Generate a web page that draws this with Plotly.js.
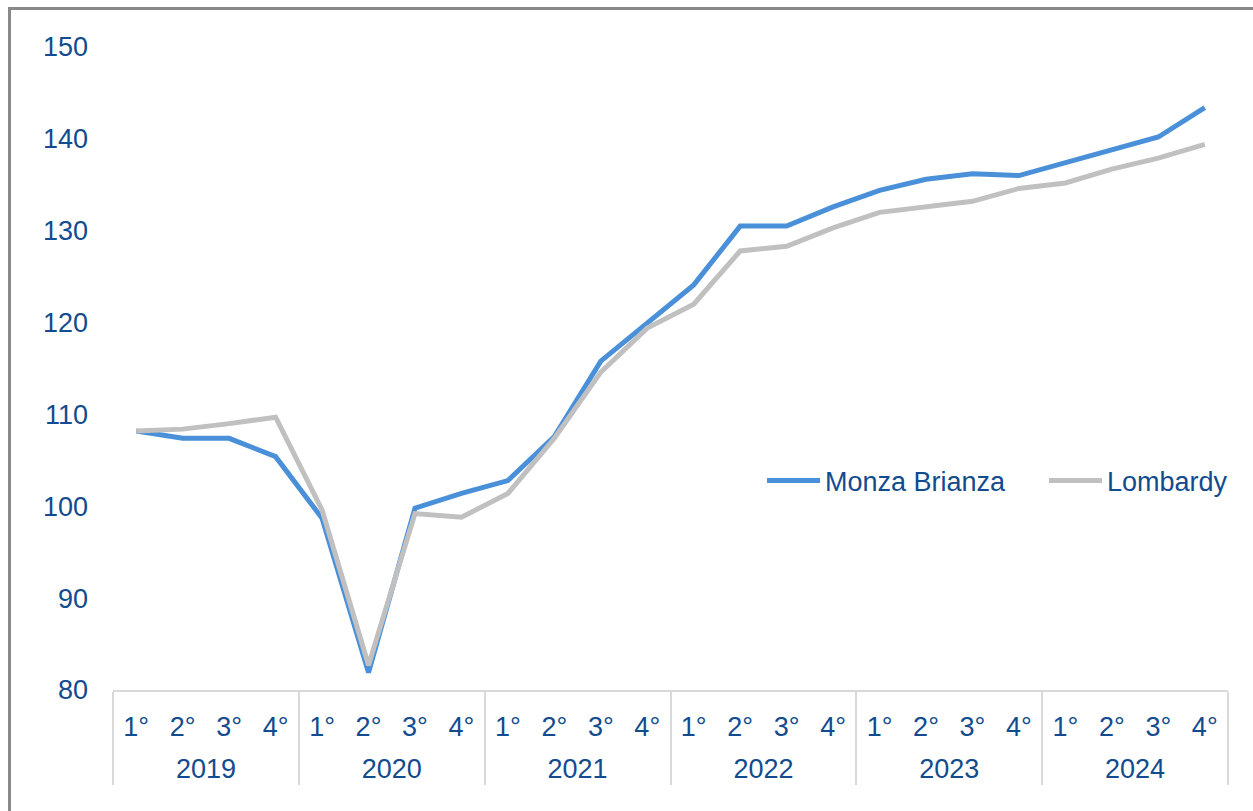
<!DOCTYPE html>
<html>
<head>
<meta charset="utf-8">
<script src="https://cdn.plot.ly/plotly-3.0.1.min.js"></script>
<style>
html,body{margin:0;padding:0;background:#fff;}
#chart{width:1253px;height:811px;position:absolute;left:0;top:0;}
#frame{position:absolute;left:8px;top:7px;width:1300px;height:900px;border-left:3px solid #898989;border-top:3px solid #898989;pointer-events:none;}
</style>
</head>
<body>
<div id="chart"></div>
<div id="frame"></div>
<script>
const years = ["2019","2020","2021","2022","2023","2024"];
const quarters = ["1°","2°","3°","4°"];
const monzaBrianza = [108.2,107.4,107.4,105.4, 98.7,81.9,99.8,101.4, 102.8,107.6,115.8,119.9, 124.1,130.5,130.5,132.6, 134.4,135.6,136.2,136.0, 137.4,138.7,140.2,143.4];
const lombardy = [108.2,108.4,109.0,109.7, 99.6,82.7,99.2,98.8, 101.4,107.4,114.6,119.4, 122.0,127.8,128.3,130.3, 132.0,132.6,133.2,134.6, 135.2,136.7,137.9,139.4];

// quarter labels get a small spacer line so the year row sits lower, as in the original
const xYear = [], xQuarter = [];
years.forEach(y => quarters.forEach(q => { xYear.push(y); xQuarter.push(q + "<br><sup>\u00a0</sup>"); }));

const textColor = "#124b8e";
const font = {family: "Liberation Sans, Arial, sans-serif", size: 27, color: textColor};

const traces = [
  {x: [xYear, xQuarter], y: monzaBrianza, name: "Monza Brianza", type: "scatter", mode: "lines",
   line: {color: "#4a90d9", width: 5}, legend: "legend"},
  {x: [xYear, xQuarter], y: lombardy, name: "Lombardy", type: "scatter", mode: "lines",
   line: {color: "#c0c0c0", width: 5}, legend: "legend2"}
];

const legendBase = {orientation: "h", xanchor: "left", y: 0.325, yanchor: "middle",
                    font: font, bgcolor: "rgba(0,0,0,0)", itemwidth: 53};

const layout = {
  width: 1253, height: 811,
  margin: {l: 113, r: 25, t: 47, b: 121},
  paper_bgcolor: "#ffffff", plot_bgcolor: "#ffffff",
  font: font,
  showlegend: true,
  legend: Object.assign({}, legendBase, {x: 0.5821}),
  legend2: Object.assign({}, legendBase, {x: 0.835}),
  xaxis: {type: "multicategory", range: [-0.5, 23.5], showgrid: false, zeroline: false, showline: true,
          linecolor: "#d9d9d9", linewidth: 2,
          showdividers: true, dividercolor: "#d9d9d9", dividerwidth: 2, ticks: "", tickfont: font, tickangle: 0,
          ticklabelstandoff: 12},
  yaxis: {range: [80, 150], dtick: 10, tick0: 80, showgrid: false, zeroline: false, showline: false, ticks: "",
          tickfont: font, ticklabelstandoff: 24}
};

Plotly.newPlot("chart", traces, layout, {displayModeBar: false, staticPlot: true});
</script>
</body>
</html>
